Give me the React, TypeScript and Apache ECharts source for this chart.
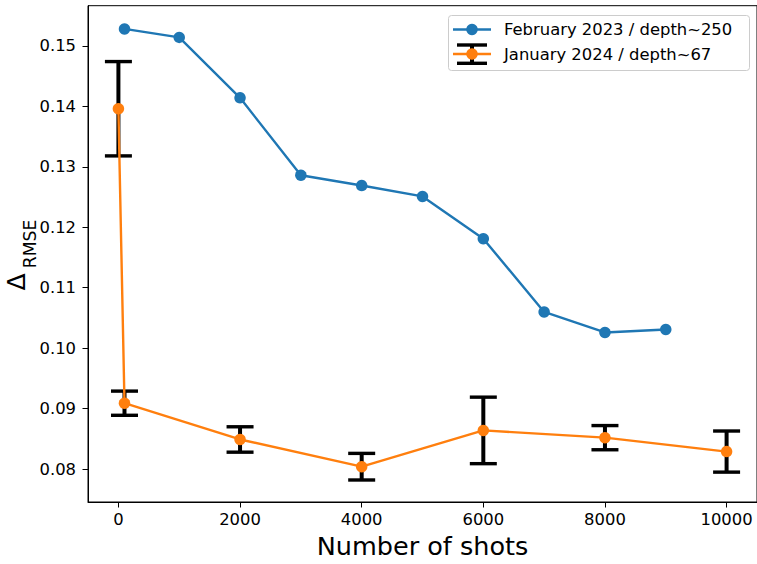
import React, { useEffect, useRef } from "react";
import * as echarts from "echarts";

const blueName = "February 2023 / depth~250";
const orangeName = "January 2024 / depth~67";
const blueX = [100, 1000, 2000, 3000, 4000, 5000, 6000, 7000, 8000, 9000];
const blueY = [0.1528, 0.1514, 0.1414, 0.1286, 0.1269, 0.1251, 0.1181, 0.106, 0.1026, 0.1031];
const orangeX = [0, 100, 2000, 4000, 6000, 8000, 10000];
const orangeY = [0.1396, 0.0909, 0.0849, 0.0804, 0.0864, 0.0852, 0.0829];
const orangeErr = [0.0078, 0.002, 0.0021, 0.0022, 0.0055, 0.002, 0.0034];
const xTicks = [0, 2000, 4000, 6000, 8000, 10000];
const yTicks = [0.08, 0.09, 0.1, 0.11, 0.12, 0.13, 0.14, 0.15];

const BLUE = "#1f77b4";
const ORANGE = "#ff7f0e";
const FONT = "DejaVu Sans";

export default function App() {
  const ref = useRef<HTMLDivElement>(null);
  useEffect(() => {
    document.body.style.margin = "0";
    const chart = echarts.init(ref.current!, null, { renderer: "svg" });
    const errData = orangeX.map((x, i) => [x, orangeY[i], orangeErr[i]]);
    chart.setOption({
      animation: false,
      backgroundColor: "#ffffff",
      grid: {
        left: 88,
        top: 5.7,
        width: 670.6,
        height: 498,
        show: true,
        borderColor: "#000",
        borderWidth: 1,
        backgroundColor: "transparent",
      },
      xAxis: {
        type: "value",
        min: -500,
        max: 10500,
        splitLine: { show: false },
        axisLine: { show: true, onZero: false, lineStyle: { color: "#000", width: 1 } },
        axisTick: { show: true, length: 5.5, customValues: xTicks, lineStyle: { color: "#000" } },
        axisLabel: {
          customValues: xTicks,
          margin: 9,
          color: "#000",
          fontFamily: FONT,
          fontSize: 16.4,
          formatter: (v: number) => String(Math.round(v)),
        },
        name: "Number of shots",
        nameLocation: "middle",
        nameGap: 31,
        nameTextStyle: { color: "#000", fontFamily: FONT, fontSize: 25.5 },
      },
      yAxis: {
        type: "value",
        min: 0.07456,
        max: 0.15664,
        splitLine: { show: false },
        axisLine: { show: true, onZero: false, lineStyle: { color: "#000", width: 1 } },
        axisTick: { show: true, length: 5.5, customValues: yTicks, lineStyle: { color: "#000" } },
        axisLabel: {
          customValues: yTicks,
          margin: 12,
          color: "#000",
          fontFamily: FONT,
          fontSize: 16.4,
          formatter: (v: number) => v.toFixed(2),
        },
      },
      series: [
        {
          type: "custom",
          name: "errorbars",
          z: 1,
          data: errData,
          encode: { x: 0, y: 1 },
          renderItem: (params: any, api: any) => {
            const x = api.value(0);
            const y = api.value(1);
            const e = api.value(2);
            const top = api.coord([x, y + e]);
            const bot = api.coord([x, y - e]);
            const hw = 13.5;
            const st = { stroke: "#000", lineWidth: 3.4 };
            return {
              type: "group",
              children: [
                { type: "line", shape: { x1: top[0], y1: top[1], x2: bot[0], y2: bot[1] }, style: { stroke: "#000", lineWidth: 4 } },
                { type: "line", shape: { x1: top[0] - hw, y1: top[1], x2: top[0] + hw, y2: top[1] }, style: st },
                { type: "line", shape: { x1: bot[0] - hw, y1: bot[1], x2: bot[0] + hw, y2: bot[1] }, style: st },
              ],
            };
          },
        },
        {
          type: "line",
          name: blueName,
          z: 3,
          data: blueX.map((x, i) => [x, blueY[i]]),
          symbol: "circle",
          symbolSize: 11.5,
          showSymbol: true,
          itemStyle: { color: BLUE },
          lineStyle: { color: BLUE, width: 2.4 },
          emphasis: { disabled: true },
        },
        {
          type: "line",
          name: orangeName,
          z: 3,
          data: orangeX.map((x, i) => [x, orangeY[i]]),
          symbol: "circle",
          symbolSize: 11.5,
          showSymbol: true,
          itemStyle: { color: ORANGE },
          lineStyle: { color: ORANGE, width: 2.4 },
          emphasis: { disabled: true },
        },
      ],
      graphic: [
        {
          type: "text",
          x: 16.5,
          y: 282,
          rotation: Math.PI / 2,
          style: { text: "Δ", font: `25px '${FONT}'`, fill: "#000", align: "center", verticalAlign: "middle" },
        },
        {
          type: "text",
          x: 30,
          y: 244,
          rotation: Math.PI / 2,
          style: { text: "RMSE", font: `17.2px '${FONT}'`, fill: "#000", align: "center", verticalAlign: "middle" },
        },
        {
          type: "group",
          z: 100,
          children: [
            {
              type: "rect",
              shape: { x: 448.5, y: 15.5, width: 301, height: 55, r: 3 },
              style: { fill: "rgba(255,255,255,0.8)", stroke: "#cccccc", lineWidth: 1 },
            },
            { type: "line", shape: { x1: 453, y1: 29.5, x2: 491, y2: 29.5 }, style: { stroke: BLUE, lineWidth: 2.4 } },
            { type: "circle", shape: { cx: 472, cy: 29.5, r: 5.75 }, style: { fill: BLUE } },
            {
              type: "text",
              x: 504,
              y: 29.5,
              style: { text: blueName, font: `16.4px '${FONT}'`, fill: "#000", verticalAlign: "middle" },
            },
            { type: "line", shape: { x1: 472, y1: 45, x2: 472, y2: 63.3 }, style: { stroke: "#000", lineWidth: 4 } },
            { type: "line", shape: { x1: 457, y1: 45, x2: 487, y2: 45 }, style: { stroke: "#000", lineWidth: 3.4 } },
            { type: "line", shape: { x1: 457, y1: 63.3, x2: 487, y2: 63.3 }, style: { stroke: "#000", lineWidth: 3.4 } },
            { type: "line", shape: { x1: 453, y1: 54, x2: 491, y2: 54 }, style: { stroke: ORANGE, lineWidth: 2.4 } },
            { type: "circle", shape: { cx: 472, cy: 54, r: 5.75 }, style: { fill: ORANGE } },
            {
              type: "text",
              x: 504,
              y: 54,
              style: { text: orangeName, font: `16.4px '${FONT}'`, fill: "#000", verticalAlign: "middle" },
            },
          ],
        },
      ],
    });
    return () => chart.dispose();
  }, []);
  return (
    <div
      ref={ref}
      style={{ position: "fixed", left: 0, top: 0, width: 757, height: 564, background: "#fff" }}
    />
  );
}
